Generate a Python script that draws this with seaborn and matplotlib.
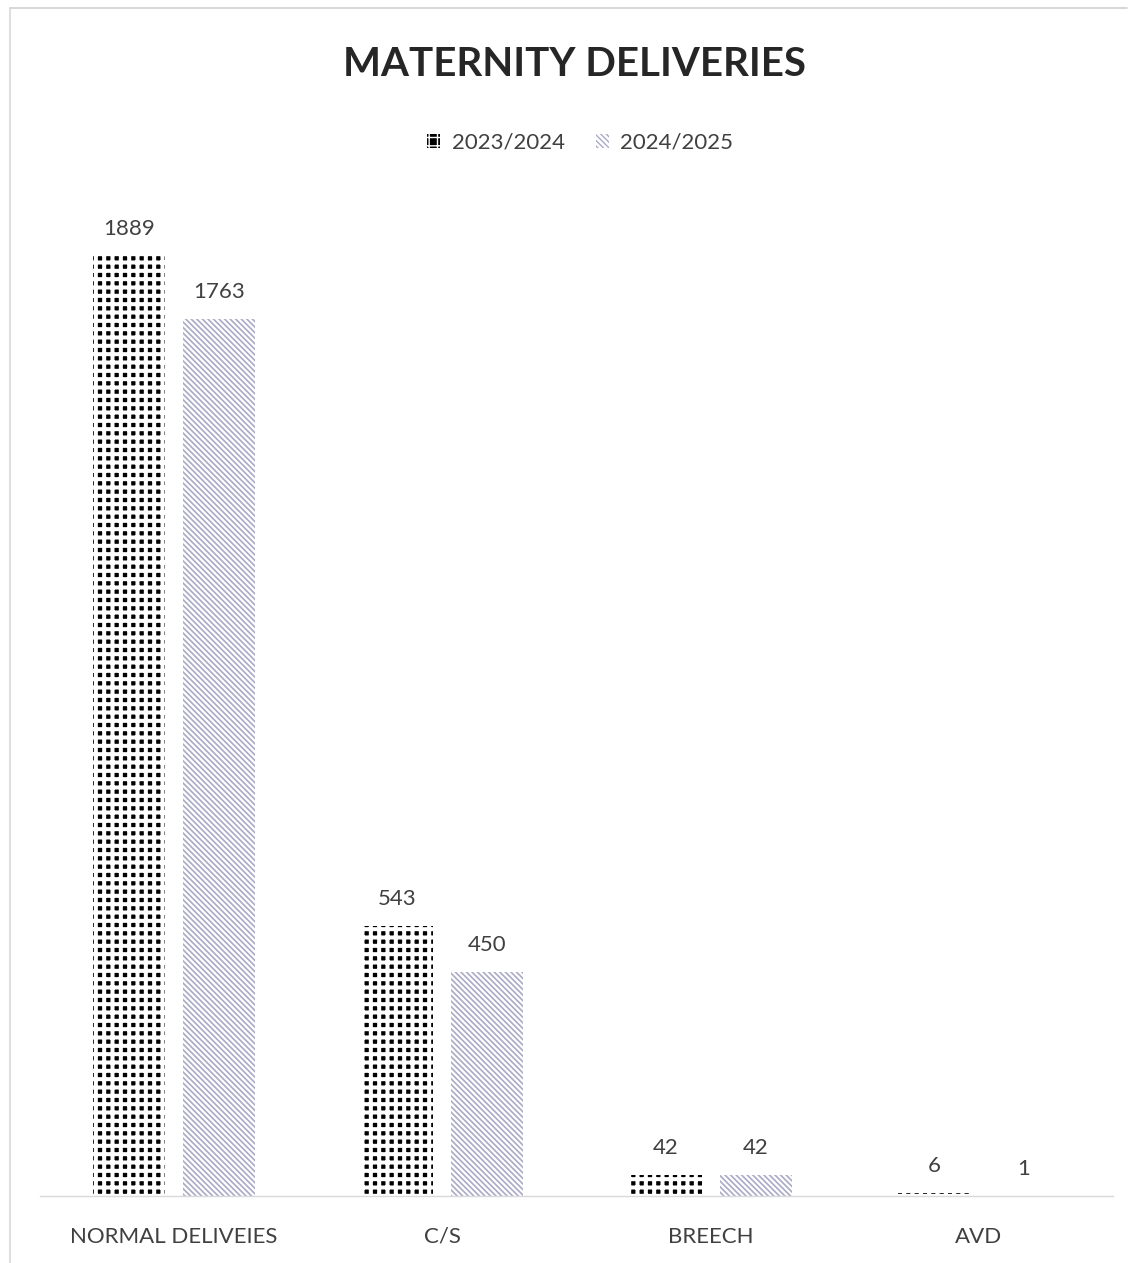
import matplotlib
matplotlib.use("Agg")
import matplotlib.pyplot as plt
import matplotlib.patches as mpatches
import seaborn as sns
import pandas as pd

# Delivery counts by type and financial year
categories = ["NORMAL DELIVEIES", "C/S", "BREECH", "AVD"]
years = ["2023/2024", "2024/2025"]
values_2023_24 = [1889, 543, 42, 6]
values_2024_25 = [1763, 450, 42, 1]

df = pd.DataFrame({
    "type": categories * 2,
    "year": [years[0]] * len(categories) + [years[1]] * len(categories),
    "count": values_2023_24 + values_2024_25,
})

sns.set_theme(style="white")
plt.rcParams["font.family"] = ["Lato", "DejaVu Sans"]

TEXT = "#404040"
STRIPE = "#aaaac6"
DOT_HATCH = "++"
STRIPE_HATCH = "\\" * 6

fig = plt.figure(figsize=(11.33, 12.63), dpi=100)
ax = fig.add_axes([0.0353, 0.05305, 0.947, 0.7881])

sns.barplot(data=df, x="type", y="count", hue="year", order=categories,
            hue_order=years, width=0.672, gap=0.2, ax=ax, legend=False,
            palette=["black", "white"], linewidth=0, saturation=1)


def style_dots(p):
    p.set_facecolor("black")
    p.set_edgecolor("white")
    p.set_hatch(DOT_HATCH)
    if hasattr(p, "set_hatch_linewidth"):
        p.set_hatch_linewidth(2.9)
    p.set_linewidth(0)


def style_stripes(p):
    p.set_facecolor("white")
    p.set_edgecolor(STRIPE)
    p.set_hatch(STRIPE_HATCH)
    if hasattr(p, "set_hatch_linewidth"):
        p.set_hatch_linewidth(1.2)
    p.set_linewidth(0)


# Style each series: dotted black pattern and light diagonal stripes
n = len(categories)
for i, bar in enumerate(ax.patches[:2 * n]):
    if i < n:
        style_dots(bar)
    else:
        style_stripes(bar)

for cont in ax.containers:
    ax.bar_label(cont, padding=12, fontsize=16, color=TEXT)

ax.set_xlim(-0.5, 3.5)
ax.set_ylim(0, 2000)
ax.set_xlabel("")
ax.set_ylabel("")
ax.set_yticks([])
ax.tick_params(axis="x", length=0, pad=22, labelsize=16, labelcolor=TEXT)
for side in ["top", "right", "left"]:
    ax.spines[side].set_visible(False)
ax.spines["bottom"].set_color("#d9d9d9")
ax.spines["bottom"].set_linewidth(1.0)

fig.text(0.507, 0.949, "MATERNITY DELIVERIES", ha="center", va="center",
         fontsize=29, fontweight="bold", color="#262626")

# Legend with pattern swatches
h1 = mpatches.Patch()
h2 = mpatches.Patch()
style_dots(h1)
style_stripes(h2)
fig.legend([h1, h2], years, loc="center", bbox_to_anchor=(0.512, 0.887),
           ncol=2, frameon=False, fontsize=16, labelcolor=TEXT,
           handlelength=0.6, handleheight=0.6, handletextpad=0.5,
           columnspacing=1.4)

# Faint chart-area border
fig.add_artist(plt.Line2D([0.009, 0.995], [0.9937, 0.9937], color="#d0d0d0",
                          linewidth=1.2, transform=fig.transFigure))
fig.add_artist(plt.Line2D([0.009, 0.009], [0.0, 0.9937], color="#d8d8d8",
                          linewidth=1.2, transform=fig.transFigure))

fig.savefig("out.png", dpi=100, facecolor="white")
